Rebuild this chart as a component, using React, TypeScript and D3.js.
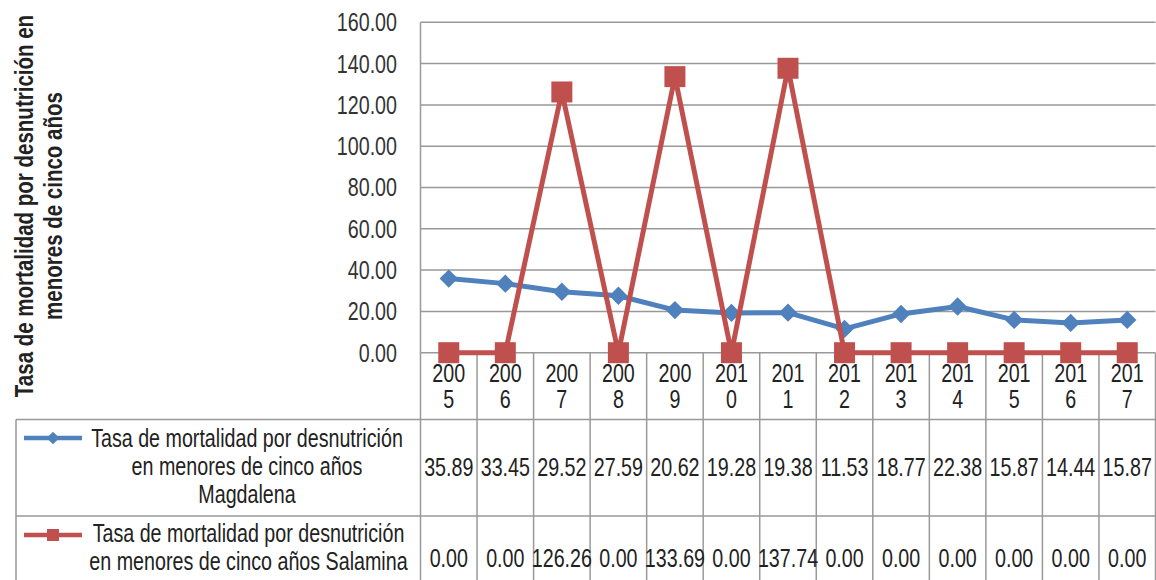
import React from "react";
import { scaleLinear, scaleBand, line } from "d3";

const years = ["2005", "2006", "2007", "2008", "2009", "2010", "2011", "2012", "2013", "2014", "2015", "2016", "2017"];
const magdalena = [35.89, 33.45, 29.52, 27.59, 20.62, 19.28, 19.38, 11.53, 18.77, 22.38, 15.87, 14.44, 15.87];
const salamina = [0, 0, 126.26, 0, 133.69, 0, 137.74, 0, 0, 0, 0, 0, 0];
const yTicks = [0, 20, 40, 60, 80, 100, 120, 140, 160];
const seriesNames = [
  ["Tasa de mortalidad por desnutrición", "en menores de cinco años", "Magdalena"],
  ["Tasa de mortalidad por desnutrición", "en menores de cinco años Salamina"],
];
const yTitle = ["Tasa de mortalidad por desnutrición en", "menores de cinco años"];

const W = 1156;
const H = 580;
const left = 420.5;
const right = 1155.5;
const top = 22.3;
const bottom = 352.7;
const tableLeft = 16;
const rowTop = 419.5;
const rowMid = 516;

const BLUE = "#4F81BD";
const RED = "#C0504D";
const GRID = "#999999";
const FONT = "'Liberation Sans', Arial, sans-serif";
const NARROW = 0.82; // no Arial Narrow installed, squeeze Liberation Sans instead

// narrow text: anchor at (x, y), squeezed horizontally
function NText({ x, y, children, anchor = "middle", size = 24, fill = "#222", weight = "normal", dy }: any) {
  return (
    <g transform={`translate(${x},${y}) scale(${NARROW},1.04)`}>
      <text textAnchor={anchor} fontSize={size} fill={fill} fontWeight={weight} dy={dy}>
        {children}
      </text>
    </g>
  );
}

export default function App() {
  const x = scaleBand().domain(years).range([left, right]);
  const y = scaleLinear().domain([0, 160]).range([bottom, top]);
  const cx = (d: string) => (x(d) as number) + x.bandwidth() / 2;

  const path = line<number>()
    .x((_, i) => cx(years[i]))
    .y((d) => y(d));

  const bounds = years.map((d) => x(d) as number).concat([right]);

  return (
    <svg
      width={W}
      height={H}
      style={{ position: "absolute", left: 0, top: 0, background: "#fff" }}
      fontFamily={FONT}
    >
      {/* y title */}
      <g transform="translate(0,206) rotate(-90)">
        <NText x={0} y={33} size={25} weight="bold">{yTitle[0]}</NText>
        <NText x={0} y={62} size={25} weight="bold">{yTitle[1]}</NText>
      </g>

      {/* gridlines and y ticks */}
      {yTicks.map((t) => (
        <g key={t}>
          <line x1={left} x2={right} y1={y(t)} y2={y(t)} stroke={GRID} strokeWidth={1.5} />
          <NText x={397} y={y(t)} dy="0.36em" anchor="end" fill="#333">
            {t.toFixed(2)}
          </NText>
        </g>
      ))}
      <line x1={left} x2={left} y1={top} y2={bottom} stroke={GRID} strokeWidth={1.5} />

      {/* table grid */}
      {bounds.map((b, i) => (
        <line key={i} x1={b} x2={b} y1={bottom} y2={H} stroke={GRID} strokeWidth={1.5} />
      ))}
      <line x1={tableLeft} x2={tableLeft} y1={rowTop} y2={H} stroke={GRID} strokeWidth={1.5} />
      <line x1={tableLeft} x2={right} y1={rowTop} y2={rowTop} stroke={GRID} strokeWidth={1.5} />
      <line x1={tableLeft} x2={right} y1={rowMid} y2={rowMid} stroke={GRID} strokeWidth={1.5} />

      {/* category labels */}
      {years.map((d) => (
        <g key={d}>
          <NText x={cx(d)} y={382}>{d.slice(0, 3)}</NText>
          <NText x={cx(d)} y={408}>{d.slice(3)}</NText>
        </g>
      ))}

      {/* table values */}
      {years.map((d, i) => (
        <g key={d}>
          <NText x={cx(d)} y={476}>{magdalena[i].toFixed(2)}</NText>
          <NText x={cx(d)} y={567}>{salamina[i].toFixed(2)}</NText>
        </g>
      ))}

      {/* legend cells */}
      {seriesNames[0].map((s, i) => (
        <NText key={i} x={247} y={447 + i * 28}>{s}</NText>
      ))}
      {seriesNames[1].map((s, i) => (
        <NText key={i} x={248.5} y={542 + i * 28}>{s}</NText>
      ))}
      <line x1={24} x2={82} y1={438} y2={438} stroke={BLUE} strokeWidth={4.5} />
      <rect x={53 - 4.5} y={438 - 4.5} width={9} height={9} fill={BLUE} transform="rotate(45,53,438)" />
      <line x1={24} x2={82} y1={535} y2={535} stroke={RED} strokeWidth={4.5} />
      <rect x={53 - 6} y={535 - 6} width={12} height={12} fill={RED} />

      {/* series */}
      <path d={path(magdalena) as string} fill="none" stroke={BLUE} strokeWidth={5} strokeLinejoin="round" />
      {magdalena.map((v, i) => (
        <rect
          key={i}
          x={cx(years[i]) - 6.5}
          y={y(v) - 6.5}
          width={13}
          height={13}
          fill={BLUE}
          transform={`rotate(45,${cx(years[i])},${y(v)})`}
        />
      ))}
      <path d={path(salamina) as string} fill="none" stroke={RED} strokeWidth={5} strokeLinejoin="round" />
      {salamina.map((v, i) => (
        <rect key={i} x={cx(years[i]) - 10.5} y={y(v) - 10.5} width={21} height={21} fill={RED} />
      ))}
    </svg>
  );
}
